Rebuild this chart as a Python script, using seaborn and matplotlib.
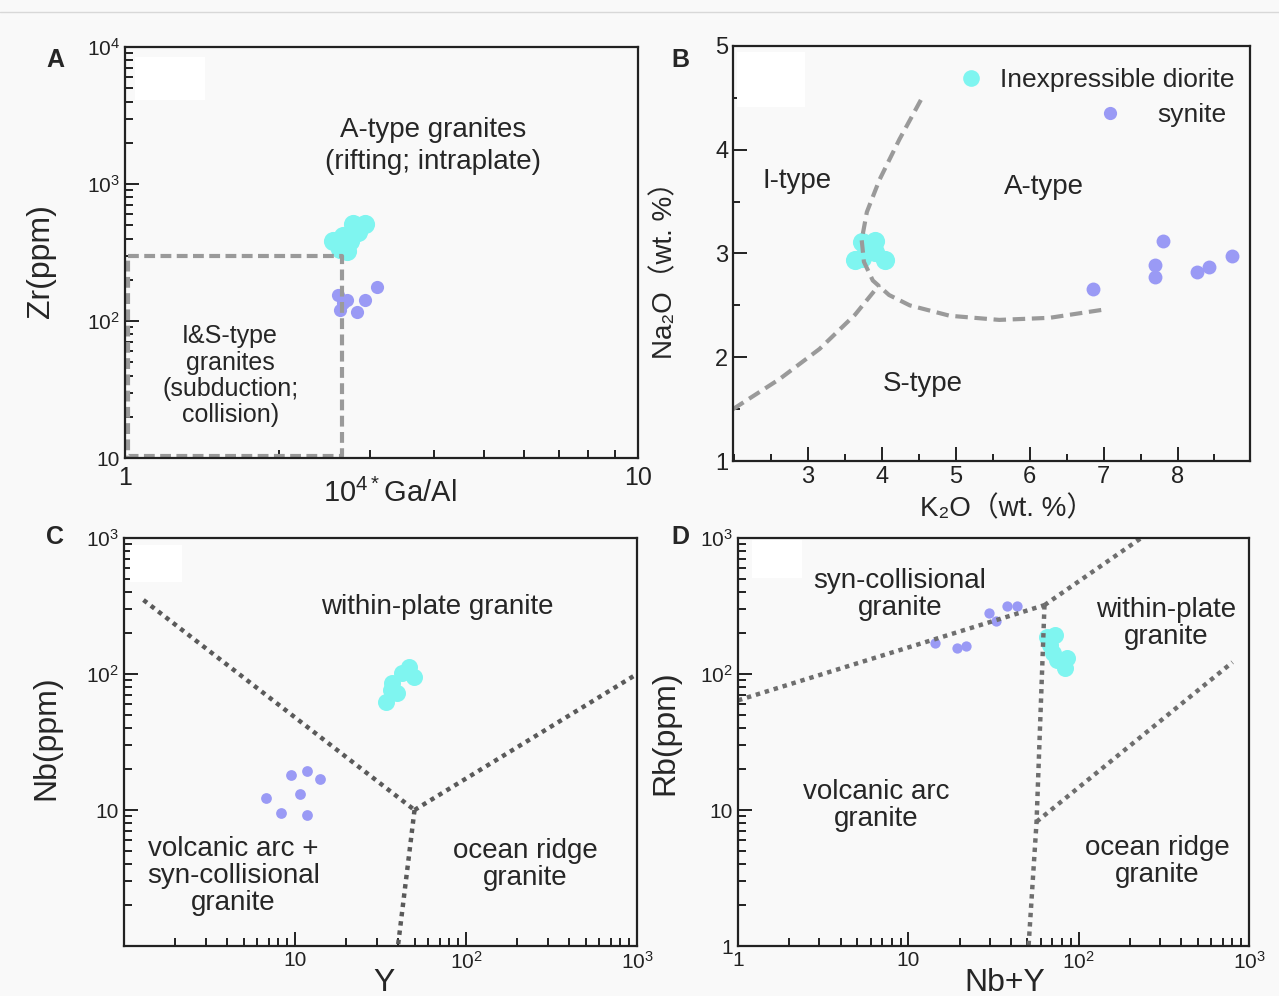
import matplotlib
matplotlib.use("Agg")
import matplotlib.pyplot as plt
import matplotlib.ticker as mticker
from matplotlib.lines import Line2D
from matplotlib.patches import Rectangle
import numpy as np
import pandas as pd
import seaborn as sns

sns.set_style("ticks")
plt.rcParams['font.family'] = ['Liberation Sans', 'DejaVu Sans', 'Noto Sans CJK SC']
plt.rcParams['mathtext.fontset'] = 'custom'
plt.rcParams['mathtext.rm'] = 'Liberation Sans'
plt.rcParams['mathtext.default'] = 'regular'

CYAN = '#7ff5f0'
PURPLE = '#9a9af5'
BG = '#f9f9f9'

# ---- A: Zr vs 10^4*Ga/Al ----
a_dio_x = [2.78, 2.94, 2.85, 2.66, 2.59, 2.75, 2.62, 2.71, 2.54]
a_dio_y = [508, 508, 444, 415, 375, 381, 333, 322, 381]
a_syn_x = [2.60, 2.71, 2.62, 2.83, 2.94, 3.10, 2.66]
a_syn_y = [155, 143, 120, 116, 143, 178, 136]
a_box_x = [1.015, 2.65, 2.65, 1.015, 1.015]
a_box_y = [300, 300, 10.3, 10.3, 300]

# ---- B: Na2O vs K2O ----
b_dio_x = [3.74, 3.91, 3.84, 3.64, 3.74, 4.04, 3.91]
b_dio_y = [3.11, 3.12, 3.04, 2.94, 2.96, 2.94, 3.01]
b_syn_x = [7.80, 7.69, 7.69, 6.86, 8.27, 8.43, 8.73]
b_syn_y = [3.12, 2.89, 2.77, 2.66, 2.82, 2.87, 2.98]
b_ia_x = [4.53, 4.24, 3.97, 3.80, 3.73, 3.76, 3.88, 4.10, 4.38, 4.92, 5.59, 6.27, 7.01]
b_ia_y = [4.48, 4.10, 3.71, 3.40, 3.13, 2.92, 2.74, 2.60, 2.50, 2.40, 2.36, 2.38, 2.46]
b_is_x = [1.99, 2.62, 3.16, 3.64, 3.97]
b_is_y = [1.50, 1.79, 2.08, 2.41, 2.70]

# ---- C: Nb vs Y ----
c_dio_x = [46.4, 49.6, 42.2, 36.9, 39.5, 34.0, 36.4]
c_dio_y = [112, 95, 102, 86, 72.5, 62, 76]
c_syn_x = [9.48, 11.8, 14.0, 10.7, 6.77, 8.28, 11.8]
c_syn_y = [18.1, 19.4, 16.9, 13.1, 12.3, 9.5, 9.2]
c_l1_x, c_l1_y = [1.3, 50], [350, 10]
c_l2_x, c_l2_y = [50, 1000], [10, 100]
c_l3_x, c_l3_y = [50, 40], [10, 1]

# ---- D: Rb vs Nb+Y ----
d_dio_x = [64.8, 72.3, 67.5, 70.3, 85, 82.7, 74.3]
d_dio_y = [187, 194, 163, 143, 131, 111, 127]
d_syn_x = [14.4, 19.4, 21.9, 29.6, 32.9, 37.7, 43.2]
d_syn_y = [169, 155, 161, 281, 245, 316, 316]
d_l1_x, d_l1_y = [1, 63], [64, 321]
d_l2_x, d_l2_y = [63, 260], [321, 1100]
d_l3_x, d_l3_y = [63, 56.6, 50.8], [321, 8.2, 1]
d_l4_x, d_l4_y = [56.6, 800], [8.2, 122]

W, H = 1279, 996
fig = plt.figure(figsize=(W / 100, H / 100), dpi=100, facecolor=BG)


def px_axes(l, t, r, b):
    return fig.add_axes([l / W, 1 - b / H, (r - l) / W, (b - t) / H])


def log_fmt(v, pos):
    if np.isclose(v, 1):
        return '1'
    if np.isclose(v, 10):
        return '10'
    return r'$10^{%d}$' % round(np.log10(v))


def style(ax):
    ax.set_facecolor(BG)
    for s in ax.spines.values():
        s.set_linewidth(1.6)
        s.set_color('#222222')
    ax.tick_params(which='both', direction='in', top=False, right=False,
                   width=1.4, colors='#222222')
    ax.tick_params(which='major', length=10)
    ax.tick_params(which='minor', length=6)


def log_axis(axis):
    axis.set_major_locator(mticker.LogLocator(base=10))
    axis.set_minor_locator(mticker.LogLocator(base=10, subs=np.arange(2, 10)))
    axis.set_major_formatter(mticker.FuncFormatter(log_fmt))
    axis.set_minor_formatter(mticker.NullFormatter())


def pts(ax, x, y, color, s):
    sns.scatterplot(x=x, y=y, ax=ax, color=color, s=s, linewidth=0, legend=False)


def white_patch(l, t, r, b):
    fig.add_artist(Rectangle((l / W, 1 - b / H), (r - l) / W, (b - t) / H,
                             transform=fig.transFigure, facecolor='white',
                             edgecolor='none', zorder=1))


fig.add_artist(Line2D([0, 1], [1 - 12 / H, 1 - 12 / H], transform=fig.transFigure,
                      color='#d8d8d8', lw=1))

dash_gray = '#9a9a9a'
dot_gray = '#5a5a5a'
RTXT = 20
LTXT = 23

# ================= A =================
axA = px_axes(125, 47, 638, 458)
style(axA)
axA.set_xscale('log')
axA.set_yscale('log')
axA.set_xlim(1, 10)
axA.set_ylim(10, 10000)
log_axis(axA.xaxis)
log_axis(axA.yaxis)
axA.plot(a_box_x, a_box_y, color=dash_gray, lw=3, ls=(0, (2.6, 1.3)), dash_capstyle='butt')
pts(axA, a_dio_x, a_dio_y, CYAN, 190)
pts(axA, a_syn_x, a_syn_y, PURPLE, 90)
axA.text(0.6, 0.76, 'A-type granites\n(rifting; intraplate)', transform=axA.transAxes,
         ha='center', va='center', fontsize=RTXT, linespacing=1.3)
axA.text(0.205, 0.2, 'I&S-type\ngranites\n(subduction;\ncollision)', transform=axA.transAxes,
         ha='center', va='center', fontsize=18, linespacing=1.12)
axA.tick_params(axis='x', labelsize=18, pad=6)
axA.tick_params(axis='y', labelsize=15)
axA.set_xlabel('10$^{4*}$Ga/Al', fontsize=21)
axA.xaxis.set_label_coords(0.517, -0.05)
axA.set_ylabel('Zr(ppm)', fontsize=LTXT)
axA.yaxis.set_label_coords(-0.135, 0.48)

# ================= B =================
axB = px_axes(733, 46, 1250, 461)
style(axB)
axB.set_xlim(1.99, 8.98)
axB.set_ylim(1, 5)
axB.set_xticks([3, 4, 5, 6, 7, 8])
axB.xaxis.set_minor_locator(mticker.MultipleLocator(0.5))
axB.set_yticks([1, 2, 3, 4, 5])
axB.yaxis.set_minor_locator(mticker.MultipleLocator(0.5))
axB.tick_params(which='minor', length=5)
axB.plot(b_ia_x, b_ia_y, color=dash_gray, lw=3, ls=(0, (3, 1.6)), dash_capstyle='butt')
axB.plot(b_is_x, b_is_y, color=dash_gray, lw=3, ls=(0, (3, 1.6)), dash_capstyle='butt')
pts(axB, b_dio_x, b_dio_y, CYAN, 190)
pts(axB, b_syn_x, b_syn_y, PURPLE, 100)
axB.text(2.85, 3.7, 'I-type', ha='center', va='center', fontsize=RTXT)
axB.text(6.2, 3.64, 'A-type', ha='center', va='center', fontsize=RTXT)
axB.text(4.55, 1.74, 'S-type', ha='center', va='center', fontsize=RTXT)
h1 = Line2D([], [], ls='none', marker='o', markersize=12, color=CYAN, markeredgewidth=0)
h2 = Line2D([], [], ls='none', marker='o', markersize=9.5, color=PURPLE, markeredgewidth=0)
leg1 = axB.legend([h1], ['Inexpressible diorite'], loc='upper right', frameon=False,
                  fontsize=19, handletextpad=0.1, borderaxespad=0.2,
                  bbox_to_anchor=(1.0, 0.985))
axB.add_artist(leg1)
axB.legend([h2], ['synite'], loc='upper right', frameon=False, fontsize=19,
           handletextpad=0.8, borderaxespad=0.2, bbox_to_anchor=(0.985, 0.9))
axB.tick_params(labelsize=17)
axB.set_xlabel('K₂O（wt. %）', fontsize=20)
axB.xaxis.set_label_coords(0.53, -0.085)
axB.set_ylabel('Na₂O（wt. %）', fontsize=20)
axB.yaxis.set_label_coords(-0.105, 0.475)

# ================= C =================
axC = px_axes(124, 538, 637, 946)
style(axC)
axC.set_xscale('log')
axC.set_yscale('log')
axC.set_xlim(1, 1000)
axC.set_ylim(1, 1000)
log_axis(axC.xaxis)
log_axis(axC.yaxis)
axC.set_xticks([10, 100, 1000])
axC.set_yticks([10, 100, 1000])
for lx, ly in [(c_l1_x, c_l1_y), (c_l2_x, c_l2_y), (c_l3_x, c_l3_y)]:
    axC.plot(lx, ly, color=dot_gray, lw=3.2, ls=(0, (1, 1.1)), dash_capstyle='butt')
pts(axC, c_dio_x, c_dio_y, CYAN, 150)
pts(axC, c_syn_x, c_syn_y, PURPLE, 60)
axC.text(0.61, 0.83, 'within-plate granite', transform=axC.transAxes,
         ha='center', va='center', fontsize=RTXT)
axC.text(0.213, 0.172, 'volcanic arc +\nsyn-collisional\ngranite', transform=axC.transAxes,
         ha='center', va='center', fontsize=RTXT, linespacing=1.05)
axC.text(0.783, 0.2, 'ocean ridge\ngranite', transform=axC.transAxes,
         ha='center', va='center', fontsize=RTXT, linespacing=1.05)
axC.tick_params(labelsize=15)
axC.set_xlabel('Y', fontsize=LTXT)
axC.xaxis.set_label_coords(0.507, -0.055)
axC.set_ylabel('Nb(ppm)', fontsize=LTXT)
axC.yaxis.set_label_coords(-0.122, 0.51)

# ================= D =================
axD = px_axes(738, 538, 1249, 946)
style(axD)
axD.set_xscale('log')
axD.set_yscale('log')
axD.set_xlim(1, 1000)
axD.set_ylim(1, 1000)
log_axis(axD.xaxis)
log_axis(axD.yaxis)
for lx, ly in [(d_l1_x, d_l1_y), (d_l2_x, d_l2_y), (d_l3_x, d_l3_y), (d_l4_x, d_l4_y)]:
    axD.plot(lx, ly, color='#6e6e6e', lw=3.2, ls=(0, (1, 1.1)), dash_capstyle='butt')
pts(axD, d_dio_x, d_dio_y, CYAN, 150)
pts(axD, d_syn_x, d_syn_y, PURPLE, 55)
axD.text(0.317, 0.862, 'syn-collisional\ngranite', transform=axD.transAxes,
         ha='center', va='center', fontsize=RTXT, linespacing=1.05)
axD.text(0.837, 0.79, 'within-plate\ngranite', transform=axD.transAxes,
         ha='center', va='center', fontsize=RTXT, linespacing=1.05)
axD.text(0.27, 0.345, 'volcanic arc\ngranite', transform=axD.transAxes,
         ha='center', va='center', fontsize=RTXT, linespacing=1.05)
axD.text(0.82, 0.207, 'ocean ridge\ngranite', transform=axD.transAxes,
         ha='center', va='center', fontsize=RTXT, linespacing=1.05)
axD.tick_params(labelsize=15)
axD.set_xlabel('Nb+Y', fontsize=LTXT)
axD.xaxis.set_label_coords(0.522, -0.055)
axD.set_ylabel('Rb(ppm)', fontsize=LTXT)
axD.yaxis.set_label_coords(-0.113, 0.522)

# faint white boxes in the upper-left corners
white_patch(135, 57, 205, 100)
white_patch(737, 52, 805, 107)
white_patch(130, 545, 182, 582)
white_patch(752, 540, 802, 578)

for lab, x, y in [('A', 55, 60), ('B', 680, 60), ('C', 55, 537), ('D', 680, 537)]:
    fig.text(x / W, 1 - y / H, lab, ha='center', va='center', fontsize=18, fontweight='bold')

fig.savefig('out.png', dpi=100, facecolor=BG)
